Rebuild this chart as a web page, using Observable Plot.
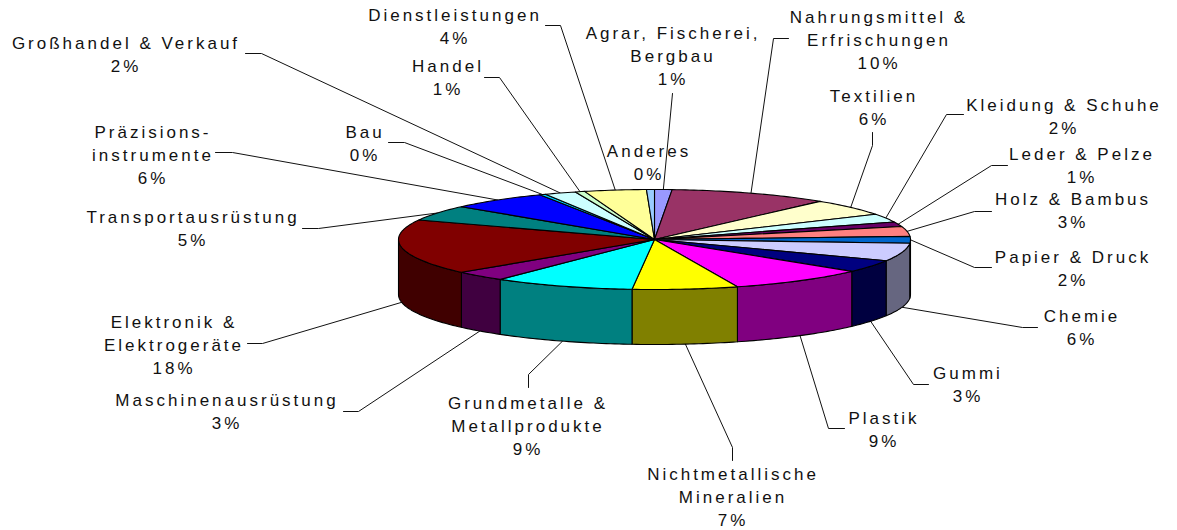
<!DOCTYPE html>
<html><head><meta charset="utf-8">
<style>html,body{margin:0;padding:0;background:#fff}</style>
<script src="https://cdn.jsdelivr.net/npm/d3@7"></script>
<script src="https://cdn.jsdelivr.net/npm/@observablehq/plot@0.6"></script>
</head><body><div id="chart"></div>
<script>
const names = ["Agrar, Fischerei,\nBergbau","Nahrungsmittel &\nErfrischungen","Textilien","Kleidung & Schuhe","Leder & Pelze","Holz & Bambus","Papier & Druck","Chemie","Gummi","Plastik","Nichtmetallische\nMineralien","Grundmetalle &\nMetallprodukte","Maschinenausrüstung","Elektronik &\nElektrogeräte","Transportausrüstung","Präzisions-\ninstrumente","Bau","Großhandel & Verkauf","Handel","Dienstleistungen","Anderes"];
const percentLabels = ["1%","10%","6%","2%","1%","3%","2%","6%","3%","9%","7%","9%","3%","18%","5%","6%","0%","2%","1%","4%","0%"];
const values = [1.1,10.1,5.4,2.7,1.5,3.2,2.2,5.8,4.0,8.75,6.65,8.9,3.3,17.8,5.0,6.2,0.4,2.0,0.6,3.9,0.5];
const topColors = ["#9999FF","#993366","#FFFFCC","#CCFFFF","#660066","#FF8080","#0066CC","#CCCCFF","#000080","#FF00FF","#FFFF00","#00FFFF","#800080","#800000","#008080","#0000FF","#00CCFF","#CCFFFF","#CCFFCC","#FFFF99","#99CCFF"];
const sideColors = ["#4D4D80","#4D1A33","#808066","#668080","#330033","#804040","#003366","#666680","#000040","#800080","#808000","#008080","#400040","#400000","#004040","#000080","#006680","#668080","#668066","#80804D","#4D6680"];
// Label placement: text centre, then the leader's start and elbow (null = no leader).
const labelX = [671,877,872,1062,1080,1071,1071,1080,966,882,731,526,225,172,191,151,363,124,446,453,647];
const labelY = [54,38,106,115,164,209,267,326,383,428,495,424,410,343,227,153,142,53,76,25,161];
const leaderStart = [[672,93],[788,38],[872,132],[963,114],[1007,165],[991,211],[991,267],[1037,327],[928,384],[844,428],[732,460],[528,387],[343,411],[247,343],[302,228],[215,152],[388,142],[245,53],[484,77],[545,25],null];
const leaderElbow = [null,[773,38],[872,145],[946,114],[991,165],[974,211],[974,267],[1022,327],[913,384],[828,428],[732,447],[528,374],[358,411],[262,343],[318,228],[232,152],[404,142],[261,53],[499,77],[560,25],null];

const cx = 654, cy = 239, rx = 256, ry = 50, depth = 55;
const total = d3.sum(values);
const cumulative = d3.cumsum(values);
const rim = (deg, h = 0) => {
  const t = deg * Math.PI / 180;
  return {x: cx + rx * Math.sin(t), y: cy - ry * Math.cos(t) + h};
};
const arcDegrees = (a, b) => {
  const n = Math.max(2, Math.ceil(b - a) + 1);
  return d3.range(n).map(i => a + (b - a) * i / (n - 1));
};
const slices = values.map((v, i) => {
  const end = cumulative[i] / total * 360;
  return {i, start: end - v / total * 360, end};
});

const sideRows = [];
slices.forEach(s => {
  const a = Math.max(s.start, 90), b = Math.min(s.end, 270);
  if (b <= a) return;
  const arc = arcDegrees(a, b);
  const pts = [...arc.map(d => rim(d)), ...arc.reverse().map(d => rim(d, depth))];
  [...pts, pts[0]].forEach(p => sideRows.push({...p, id: "side" + s.i, color: sideColors[s.i]}));
});
const topRows = [];
slices.forEach(s => {
  const pts = [{x: cx, y: cy}, ...arcDegrees(s.start, s.end).map(d => rim(d)), {x: cx, y: cy}];
  pts.forEach(p => topRows.push({...p, id: "top" + s.i, color: topColors[s.i]}));
});
const leaderRows = [];
slices.forEach(s => {
  if (!leaderStart[s.i]) return;
  const mid = (s.start + s.end) / 2;
  const onSide = mid > 95 && mid < 265;
  const pts = [leaderStart[s.i], leaderElbow[s.i]].filter(Boolean).map(([x, y]) => ({x, y}));
  pts.push(rim(mid, onSide ? depth : 0));
  pts.forEach(p => leaderRows.push({...p, id: "lead" + s.i}));
});
const labels = names.map((n, i) => ({text: n + "\n" + percentLabels[i], x: labelX[i], y: labelY[i]}));

const chart = Plot.plot({
  width: 1177, height: 530,
  margin: 0,
  x: {domain: [0, 1177], range: [0, 1177], axis: null},
  y: {domain: [0, 530], range: [0, 530], axis: null},
  color: {type: "identity"},
  style: {background: "#fff", fontFamily: "'Liberation Sans', Arial, sans-serif", letterSpacing: "3px", color: "#000"},
  marks: [
    Plot.line(leaderRows, {x: "x", y: "y", z: "id", stroke: "#111", strokeWidth: 1}),
    Plot.line(sideRows, {x: "x", y: "y", z: "id", fill: "color", stroke: "#000", strokeWidth: 1.1, strokeLinejoin: "round"}),
    Plot.line(topRows, {x: "x", y: "y", z: "id", fill: "color", stroke: "#000", strokeWidth: 1.1, strokeLinejoin: "round"}),
    Plot.text(labels, {x: "x", y: "y", text: "text", fontSize: 17, lineHeight: 1.353, fill: "#111", textAnchor: "middle", dx: 1.5})
  ]
});
document.getElementById("chart").appendChild(chart);
</script></body></html>
